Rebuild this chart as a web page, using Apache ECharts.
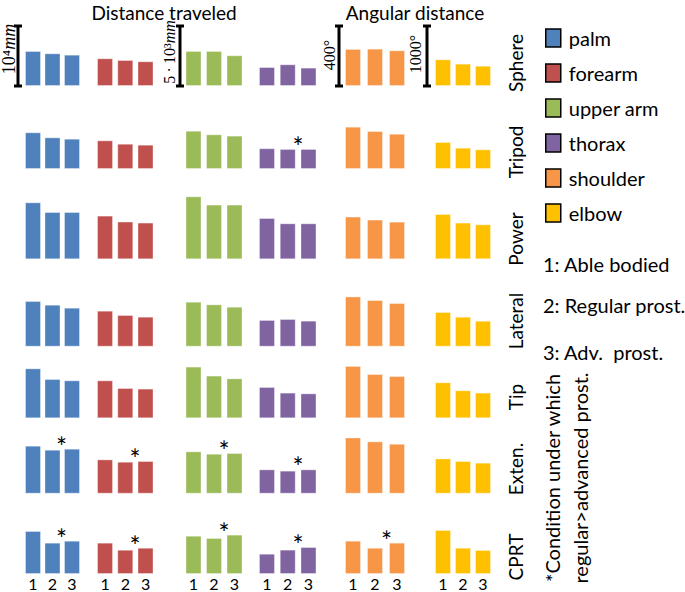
<!DOCTYPE html>
<html><head><meta charset="utf-8">
<script src="https://cdn.jsdelivr.net/npm/echarts@6/dist/echarts.min.js"></script>
<style>html,body{margin:0;padding:0;background:#fff}#c{width:685px;height:592px}</style>
</head><body><div id="c"></div>
<script>
// ---------- data ----------
const conditions = ['Sphere','Tripod','Power','Lateral','Tip','Exten.','CPRT'];
const groups = ['1','2','3'];
const parts = ['palm','forearm','upper arm','thorax','shoulder','elbow'];
// distance traveled (mm), per condition: [able bodied, regular prost., adv. prost.]
const palm     = [[5830,5450,5220],[6120,5280,5050],[9500,7880,7880],[7620,7000,6500],[8330,6550,6330],[8000,7330,7500],[7170,5220,5550]];
const forearm  = [[4620,4330,4120],[4780,4220,4050],[7280,6280,6120],[6000,5280,5000],[6330,5050,4950],[5720,5330,5450],[5220,4050,4380]];
const upperArm = [[2920,2920,2560],[3190,2890,2780],[5250,4560,4560],[3750,3530,3330],[4310,3560,3330],[3530,3330,3390],[3190,3000,3280]];
const thorax   = [[1580,1810,1530],[1730,1670,1670],[3440,3000,3000],[2230,2310,2170],[2610,2140,2080],[2030,1920,2030],[1690,2030,2250]];
// angular distance (deg)
const shoulder = [[247,249,238],[282,253,235],[285,265,251],[335,311,291],[349,295,282],[375,349,333],[222,175,209]];
const elbow    = [[445,372,338],[450,355,328],[755,612,583],[578,500,433],[600,467,428],[588,545,517],[733,438,400]];
// [condition index, part index] where regular > advanced
const stars = [[1,3],[5,0],[5,1],[5,2],[5,3],[6,0],[6,1],[6,2],[6,3],[6,4]];
// scale bars
const scaleValues = [10000, 10000, 5000, 5000, 400, 1000];
const scaleBars = [
  {col:0, value:10000, label:'10⁴{i|mm}'},
  {col:2, value:5000,  label:'5\u2009·\u200910³{i|mm}'},
  {col:4, value:400,   label:'400°'},
  {col:5, value:1000,  label:'1000°'}
];
const titles = ['Distance traveled','Angular distance'];
const notes = ['1: Able bodied','2: Regular prost.','3: Adv.  prost.'];
const footnote = '*Condition under which\nregular>advanced prost.';

// ---------- layout ----------
const values = [palm, forearm, upperArm, thorax, shoulder, elbow];
const colors = ['#4F81BD','#C0504D','#9BBB59','#8064A2','#F79646','#FFC000'];
const colLeft = [23.25, 94.9, 183.25, 256.6, 342, 433];
const colBand = [19.5, 20.25, 20.5, 20.75, 22, 20];
const rowBase = [86, 169, 259.3, 346.7, 418.3, 493.7, 574];
const rowLabelY = [63, 152, 239, 321, 397, 469, 557];
const GH = 72, SCALE_PX = 60;
const sbDx = {0:-15, 2:-13.5, 4:-14, 5:-16};
const sbTx = {0:-9, 2:-11, 4:-10, 5:-12};
const sbTy = {0:-7, 2:-4, 4:-1, 5:-2};
const sbFs = {0:18, 2:16, 4:16, 5:16};
const FONT = 'Lato';

const grid = [], xAxis = [], yAxis = [], series = [];
let idx = 0;
for (let r = 0; r < conditions.length; r++) {
  for (let c = 0; c < parts.length; c++) {
    grid.push({left: colLeft[c], width: colBand[c]*3, top: rowBase[r]-GH, height: GH});
    xAxis.push({type:'category', gridIndex: idx, data: groups,
      axisLine:{show:false}, axisTick:{show:false},
      axisLabel:{show: r === conditions.length-1, fontSize:16, lineHeight:16, color:'#000', margin:1, fontFamily:FONT}});
    yAxis.push({type:'value', gridIndex: idx, min:0, max: scaleValues[c]*GH/SCALE_PX, show:false});
    const isStar = stars.some(s => s[0]===r && s[1]===c);
    series.push({
      type:'bar', name: parts[c], xAxisIndex: idx, yAxisIndex: idx, barWidth:16,
      itemStyle:{color: colors[c], borderColor:'rgba(255,255,255,0.35)', borderWidth:1},
      silent:true,
      data: values[c][r].map((v,i) => (isStar && i===2) ? {value:v, label:{show:true, position:'top', distance:0,
        formatter:'*', fontSize:26, color:'#000', fontFamily:FONT, offset:[-10.5, 11]}} : v)
    });
    if (r === 0) {
      const sb = scaleBars.find(s => s.col === c);
      if (sb) {
        series.push({
          type:'custom', xAxisIndex: idx, yAxisIndex: idx, clip:false, silent:true,
          data:[[0, sb.value]], encode:{x:0, y:1},
          renderItem: (params, api) => {
            const p0 = api.coord([0, 0]);
            const p1 = api.coord([0, api.value(1)]);
            const x = p0[0] + sbDx[c];
            const ls = {stroke:'#000', lineWidth:3};
            return {type:'group', children:[
              {type:'line', shape:{x1:x, y1:p0[1], x2:x, y2:p1[1]}, style:ls},
              {type:'line', shape:{x1:x-4, y1:p0[1], x2:x+4, y2:p0[1]}, style:ls},
              {type:'line', shape:{x1:x-4, y1:p1[1], x2:x+4, y2:p1[1]}, style:ls},
              {type:'text', x: x + sbTx[c], y: (p0[1]+p1[1])/2 + sbTy[c], rotation: Math.PI/2,
                style:{text: sb.label, fontSize:sbFs[c], fontFamily:'Liberation Serif', fill:'#000',
                  align:'center', verticalAlign:'middle',
                  rich:{i:{fontStyle:'italic', fontSize:sbFs[c], fontFamily:'Liberation Serif', fill:'#000'}}}}
            ]};
          }
        });
      }
    }
    idx++;
  }
}

const graphic = [];
graphic.push({type:'text', x:164, y:12, style:{text:titles[0], fontSize:19, fontFamily:FONT, fill:'#000', align:'center', verticalAlign:'middle'}});
graphic.push({type:'text', x:415, y:12, style:{text:titles[1], fontSize:19, fontFamily:FONT, fill:'#000', align:'center', verticalAlign:'middle'}});
conditions.forEach((t, r) => graphic.push({type:'text', x:515, y:rowLabelY[r], rotation:Math.PI/2,
  style:{text:t, fontSize:19, fontFamily:FONT, fill:'#000', align:'center', verticalAlign:'middle'}}));
const noteY = [264, 305, 352];
notes.forEach((t, i) => graphic.push({type:'text', x:543, y:noteY[i],
  style:{text:t, fontSize:20, fontFamily:FONT, fill:'#000', align:'left', verticalAlign:'middle'}}));
graphic.push({type:'text', x:566, y:478, rotation:Math.PI/2,
  style:{text:footnote, fontSize:20, lineHeight:28, fontFamily:FONT, fill:'#000', align:'center', verticalAlign:'middle'}});

const chart = echarts.init(document.getElementById('c'), null, {renderer:'svg'});
chart.setOption({
  animation:false,
  backgroundColor:'#fff',
  grid, xAxis, yAxis, series, graphic,
  legend:{
    data: parts, orient:'vertical', left:545, top:28, padding:0, itemWidth:15, itemHeight:18, itemGap:15,
    icon:'rect', selectedMode:false,
    itemStyle:{borderColor:'#000', borderWidth:1.5},
    textStyle:{fontSize:20, fontFamily:FONT, color:'#000', padding:[0,0,0,3]}
  }
});
</script></body></html>
